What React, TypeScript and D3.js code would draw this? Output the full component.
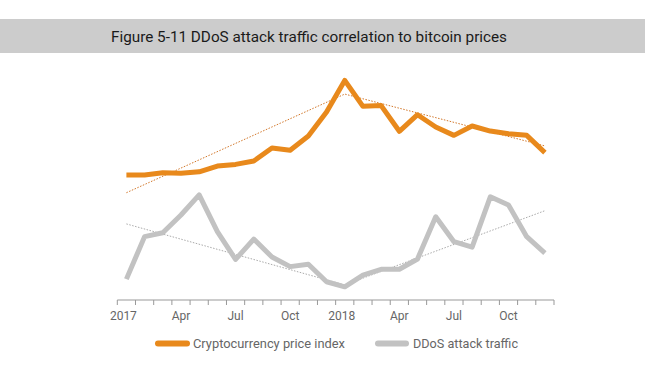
import React from "react";
import * as d3 from "d3";

const months = ["2017-01","2017-02","2017-03","2017-04","2017-05","2017-06","2017-07","2017-08","2017-09","2017-10","2017-11","2017-12","2018-01","2018-02","2018-03","2018-04","2018-05","2018-06","2018-07","2018-08","2018-09","2018-10","2018-11","2018-12"];
const tickLabels = ["2017","","","Apr","","","Jul","","","Oct","","","2018","","","Apr","","","Jul","","","Oct","",""];
// values expressed as index (0 = bottom of plot, 100 = top)
const cryptoIndex = [52.1,52.1,53.0,52.8,53.4,55.8,56.5,57.9,63.3,62.4,68.3,78.3,91.5,80.7,81.0,70.3,77.2,72.1,68.6,72.5,70.4,69.3,68.6,61.4];
const ddosTraffic = [8.7,26.4,28.0,35.4,43.8,28.5,16.9,25.4,17.9,13.9,14.9,7.6,5.5,10.4,12.8,12.8,17.1,34.7,24.3,22.0,43.0,39.6,26.4,19.5];
const cryptoTrend = [[0, 44.7], [12, 85.8], [23, 64.2]];
const ddosTrend = [[0, 31.7], [12, 6.3], [23, 37.2]];
const seriesNames = ["Cryptocurrency price index", "DDoS attack traffic"];
const title = "Figure 5-11 DDoS attack traffic correlation to bitcoin prices";

const ORANGE = "#E8891C";
const GREY = "#C2C2C2";

export default function App() {
  const W = 645, H = 373;
  const x = d3.scaleBand<string>().domain(months).range([117.3, 554]);
  const y = d3.scaleLinear().domain([0, 100]).range([300, 60]);
  const cx = (i: number) => (x(months[i]) as number) + x.bandwidth() / 2;
  const line = d3.line<number>().x((_, i) => cx(i)).y((d) => y(d));
  const tline = d3.line<number[]>().x((d) => cx(d[0])).y((d) => y(d[1]));
  const tickXs = months.map((m) => x(m) as number).concat([x.range()[1]]);
  const font = "Roboto, 'Open Sans', sans-serif";
  return (
    <svg width={W} height={H} style={{ position: "absolute", left: 0, top: 0, background: "#fff" }}>
      <rect x={0} y={19} width={W} height={34} fill="#CCCCCC" />
      <text x={111} y={42} fontFamily={font} fontSize={15.5} fill="#1a1a1a" textLength={396} lengthAdjust="spacingAndGlyphs">{title}</text>
      {/* axis */}
      <line x1={x.range()[0]} x2={x.range()[1]} y1={300} y2={300} stroke="#999" strokeWidth={1} />
      {tickXs.map((t, i) => (
        <line key={i} x1={t} x2={t} y1={300} y2={305} stroke="#999" strokeWidth={1} />
      ))}
      {tickLabels.map((l, i) => l ? (
        <text key={i} x={cx(i) - (l.length === 4 ? 3 : 0)} y={320} textAnchor="middle" fontFamily={font} fontSize={12} fill="#666">{l}</text>
      ) : null)}
      {/* trend lines */}
      <path d={tline(ddosTrend) as string} fill="none" stroke="#aaa" strokeWidth={1} strokeDasharray="1.5,1.5" />
      <path d={tline(cryptoTrend) as string} fill="none" stroke="#D2772A" strokeWidth={1} strokeDasharray="1.5,1.5" />
      {/* series */}
      <path d={line(ddosTraffic) as string} fill="none" stroke={GREY} strokeWidth={5} strokeLinejoin="round" />
      <path d={line(cryptoIndex) as string} fill="none" stroke={ORANGE} strokeWidth={5} strokeLinejoin="round" />
      {/* legend */}
      <line x1={158} x2={187} y1={343.5} y2={343.5} stroke={ORANGE} strokeWidth={6} strokeLinecap="round" />
      <text x={193} y={348} fontFamily={font} fontSize={13} fill="#666" textLength={152} lengthAdjust="spacingAndGlyphs">{seriesNames[0]}</text>
      <line x1={378} x2={406} y1={343.5} y2={343.5} stroke={GREY} strokeWidth={6} strokeLinecap="round" />
      <text x={413} y={348} fontFamily={font} fontSize={13} fill="#666" textLength={105} lengthAdjust="spacingAndGlyphs">{seriesNames[1]}</text>
    </svg>
  );
}
